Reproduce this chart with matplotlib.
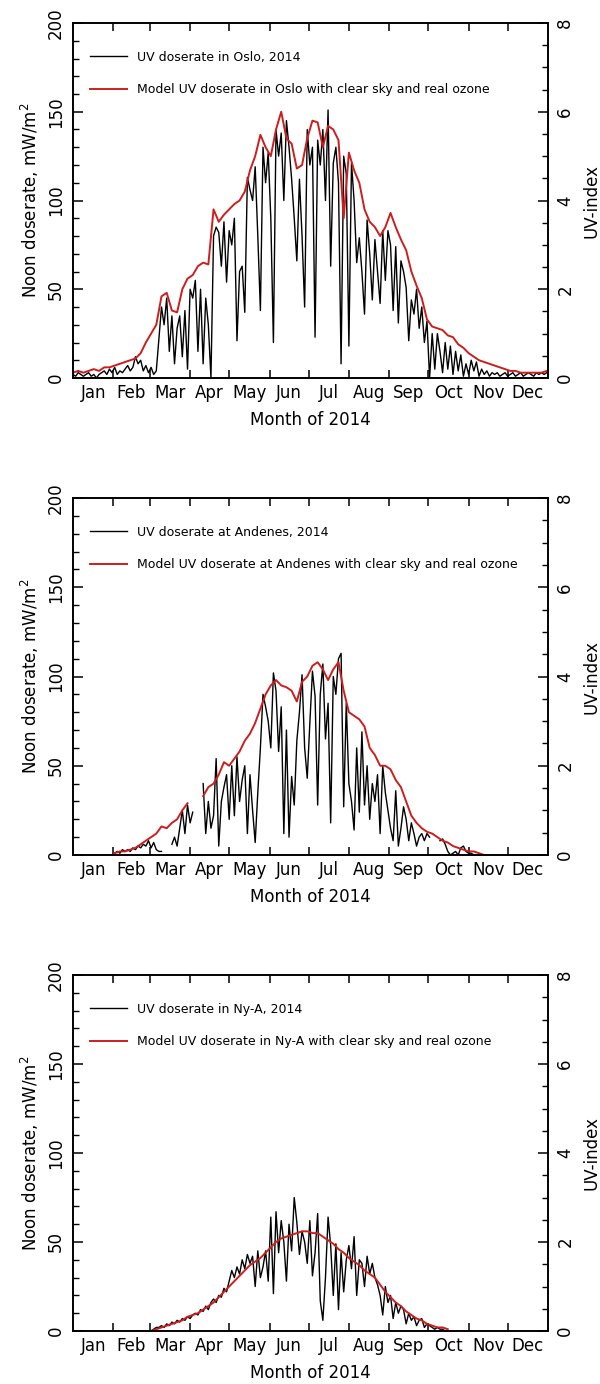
import numpy as np
import matplotlib
matplotlib.use("Agg")
import matplotlib.pyplot as plt
from matplotlib.ticker import FixedLocator, MultipleLocator, NullFormatter, FixedFormatter

# month layout of 2014 (day of year)
months = ["Jan", "Feb", "Mar", "Apr", "May", "Jun", "Jul", "Aug", "Sep", "Oct", "Nov", "Dec"]
month_starts = [0, 31, 59, 90, 120, 151, 181, 212, 243, 273, 304, 334, 365]

OBS_STEP = 2     # measured series read every 2nd day
MODEL_STEP = 4   # model series read every 4th day

# ---- Oslo ----
oslo_obs_start = 0
oslo_obs = [2, 1, 3, 2, 1, 2, 3, 1, 2, 0, 2,
            3, 4, 2, 5, 3, 6, 2, 4, 3, 5, 7, 4, 6,
            12, 8, 10, 4, 7, 3, 6, 2, 4,
            22, 40, 30, 45, 15, 35, 8, 28, 35, 12, 38, 5, 50, 45, 55, 15, 50, 8, 45, 30, 0, 80,
            85, 82, 63, 88, 54, 83, 75, 90, 21, 60, 63, 37, 113, 106, 100, 119, 80, 38, 130, 110,
            127, 90, 20, 140, 125, 138, 100, 145, 130, 112, 90, 66, 112, 80, 40, 140,
            120, 130, 23, 134, 120, 140, 100, 151, 63, 121, 130, 110, 8, 125, 115, 18, 121, 100,
            65, 79, 60, 36, 89, 70, 44, 78, 60, 42, 83, 55,
            83, 75, 38, 74, 31, 66, 60, 51, 21, 44, 36, 50, 28, 40, 20, 32, 0, 25, 5, 25,
            15, 3, 20, 5, 18, 2, 15, 4, 13, 1,
            8, 2, 10, 4, 9, 1, 5, 2, 4, 1, 3, 2, 3, 1, 2, 3, 1, 2, 3, 1,
            2, 3, 1, 2, 3, 2, 1, 3, 2, 3, 2, 3]
oslo_model_start = 0
oslo_model = [3, 4, 3, 4, 5, 4, 6, 6, 7, 8, 9, 10, 11, 14, 20, 25, 30, 46, 48, 38,
              37, 50, 56, 58, 63, 65, 64, 95, 88, 92, 95, 98, 100, 105, 117, 125, 137, 130, 125, 140,
              150, 135, 132, 118, 120, 135, 145, 144, 130, 142, 140, 134, 90, 127, 117, 110, 95, 88, 85, 80,
              85, 93, 85, 78, 72, 60, 52, 45, 33, 29, 28, 27, 24, 23, 19, 17, 14, 12, 10, 9,
              8, 7, 6, 5, 4, 4, 3, 3, 3, 3, 3, 4]

# ---- Andenes ----
andenes_obs_start = 32
andenes_obs = [1, 2, 1, 3, 2, 3, 2, 4, 3, 5, 4, 6, 5, 8, 4, 7, 3, 2,
               2, np.nan, np.nan, np.nan, 6, 10, 5, 15, 25, 12, 28, 18, 24, np.nan, np.nan, np.nan,
               40, 12, 30, 15, 22, 54, 5, 30, 38, 45, 20, 50, 22, 55, 30, 42, 50, 12, 45, 25,
               7, 35, 60, 90, 83, 75, 60, 102, 92, 58, 83, 12, 70, 10, 44, 28, 64, 80, 101, 60,
               43, 74, 103, 89, 28, 90, 107, 65, 85, 18, 100, 90, 110, 113, 27, 85, 40, 30, 14, 60,
               24, 69, 28, 50, 20, 40, 30, 45, 12, 50, 35, 25, 15, 8, 36, 5, 15, 27, 20, 8,
               18, 12, 5, 10, 12, 8, 12, 10, np.nan, np.nan, np.nan, 8, 9, 6, 2, 0, 1, 2, 0, 4,
               5, 2, 1, 1, 0]
andenes_model_start = 32
andenes_model = [1, 2, 2, 3, 4, 6, 8, 10, 12, 16, 15, 18, 20, 25, 29, np.nan, np.nan,
                 33, 38, 40, 45, 52, 50, 54, 58, 64, 68, 74, 82, 90, 95, 98, 95, 94, 92, 86,
                 97, 100, 106, 108, 104, 98, 104, 108, 92, 80, 78, 76, 72, 60, 56, 50, 50, 48,
                 42, 38, 30, 22, 18, 15, 13, 12, 10, 8, 7, 5, 4, 3, 2, 2, 1, 0]

# ---- Ny-Alesund ----
nya_obs_start = 60
nya_obs = [0, 1, 2, 2, 3, 2, 4, 3, 5, 4, 6, 5, 7, 6, 8, 7, 9, 10, 9, 12,
           11, 14, 12, 16, 18, 16, 20, 19, 24, 22, 28, 34, 30, 36, 32, 40, 35, 43, 38, 42,
           25, 45, 30, 36, 45, 28, 64, 21, 67, 44, 62, 50, 28, 60, 45, 75, 61, 43, 56, 50,
           38, 62, 31, 44, 66, 17, 6, 30, 64, 48, 20, 49, 12, 44, 22, 40, 48, 35, 53, 20,
           40, 38, 25, 42, 32, 38, 30, 26, 20, 9, 25, 16, 20, 7, 16, 10, 14, 12, 4, 10,
           6, 8, 3, 6, 7, 2, 4, 3, 2, 1, 2, 1, 1, 0]
nya_model_start = 60
nya_model = [0, 1, 2, 3, 4, 5, 6, 8, 9, 10, 12, 14, 16, 19, 22, 25, 28, 31, 34, 37,
             39, 41, 44, 47, 50, 52, 53, 54, 55, 56, 56, 55, 55, 53, 51, 49, 46, 44, 41, 39,
             37, 34, 32, 30, 26, 22, 19, 16, 14, 11, 9, 7, 6, 4, 3, 2, 2, 1]

stations = [
    (oslo_obs_start, oslo_obs, oslo_model_start, oslo_model,
     "UV doserate in Oslo, 2014",
     "Model UV doserate in Oslo with clear sky and real ozone"),
    (andenes_obs_start, andenes_obs, andenes_model_start, andenes_model,
     "UV doserate at Andenes, 2014",
     "Model UV doserate at Andenes with clear sky and real ozone"),
    (nya_obs_start, nya_obs, nya_model_start, nya_model,
     "UV doserate in Ny-A, 2014",
     "Model UV doserate in Ny-A with clear sky and real ozone"),
]

RED = "#cc1e1e"
W, H = 600, 1384
fig = plt.figure(figsize=(W / 100, H / 100), dpi=100)

# panel boxes in pixels: left, top, right, bottom
panel_px = [(73, 23, 548, 378), (73, 498, 548, 855), (73, 975, 548, 1331)]


def draw_panel(rect, obs_start, obs, model_start, model, obs_label, model_label):
    l, t, r, b = rect
    ax = fig.add_axes([l / W, 1 - b / H, (r - l) / W, (b - t) / H])
    obs_days = obs_start + OBS_STEP * np.arange(len(obs))
    model_days = model_start + MODEL_STEP * np.arange(len(model))
    ax.plot(obs_days, obs, color="black", lw=1.0, label=obs_label)
    ax.plot(model_days, model, color=RED, lw=1.4, label=model_label)

    ax.set_xlim(0, 365)
    ax.set_ylim(0, 200)
    # month boundaries as ticks, names in the middle of the month
    ax.xaxis.set_major_locator(FixedLocator(month_starts[1:-1]))
    ax.xaxis.set_major_formatter(NullFormatter())
    mids = [(a + b2) / 2 for a, b2 in zip(month_starts[:-1], month_starts[1:])]
    ax.xaxis.set_minor_locator(FixedLocator(mids))
    ax.xaxis.set_minor_formatter(FixedFormatter(months))
    ax.tick_params(axis="x", which="major", direction="in", length=6, width=1.1, top=True)
    ax.tick_params(axis="x", which="minor", length=0, labelsize=12, pad=4)

    ax.yaxis.set_major_locator(MultipleLocator(50))
    ax.yaxis.set_minor_locator(MultipleLocator(10))
    ax.tick_params(axis="y", which="major", direction="in", length=7, width=1.1,
                   labelsize=12, labelrotation=90, pad=6)
    ax.tick_params(axis="y", which="minor", direction="in", length=4, width=1.0)
    for lbl in ax.get_yticklabels():
        lbl.set_va("center")

    for sp in ax.spines.values():
        sp.set_linewidth(1.2)

    ax.set_ylabel("Noon doserate, mW/m$^2$", fontsize=12, labelpad=4)
    ax.set_xlabel("Month of 2014", fontsize=12, labelpad=7)

    ax.legend(loc="upper left", bbox_to_anchor=(0.035, 0.922), frameon=False, fontsize=9,
              handlelength=3.0, handletextpad=0.8, labelspacing=1.55,
              borderaxespad=0, borderpad=0)

    ax2 = ax.twinx()
    ax2.set_ylim(0, 8)
    ax2.yaxis.set_major_locator(MultipleLocator(2))
    ax2.yaxis.set_minor_locator(MultipleLocator(0.5))
    ax2.tick_params(axis="y", which="major", direction="in", length=7, width=1.1,
                    labelsize=12, labelrotation=90, pad=6)
    ax2.tick_params(axis="y", which="minor", direction="in", length=4, width=1.0)
    for lbl in ax2.get_yticklabels():
        lbl.set_va("center")
    ax2.set_ylabel("UV-index", fontsize=12, labelpad=6)
    for sp in ax2.spines.values():
        sp.set_linewidth(1.2)
    return ax


for rect, st in zip(panel_px, stations):
    draw_panel(rect, *st)

fig.savefig("out.png", dpi=100)
